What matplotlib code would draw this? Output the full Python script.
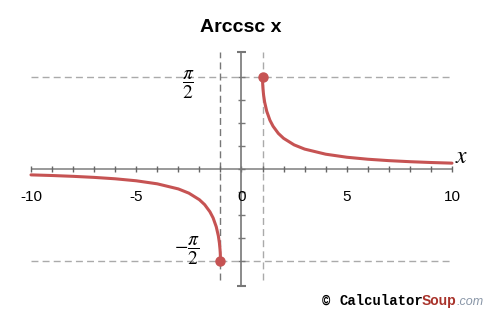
import matplotlib.pyplot as plt
import numpy as np

plt.rcParams["mathtext.fontset"] = "stix"

# curve samples (x, arccsc x)
x_right = [1.0, 1.005, 1.01, 1.02, 1.05, 1.1, 1.2, 1.35, 1.5, 1.75, 2.0, 2.5, 3.0,
           4.0, 5.0, 6.0, 7.0, 8.0, 9.0, 10.0]
y_right = [1.571, 1.471, 1.430, 1.372, 1.261, 1.141, 0.985, 0.833, 0.730, 0.608,
           0.524, 0.412, 0.340, 0.253, 0.201, 0.167, 0.143, 0.125, 0.111, 0.100]
x_left = [-10.0, -9.0, -8.0, -7.0, -6.0, -5.0, -4.0, -3.0, -2.5, -2.0, -1.75, -1.5,
          -1.35, -1.2, -1.1, -1.05, -1.02, -1.01, -1.005, -1.0]
y_left = [-0.100, -0.111, -0.125, -0.143, -0.167, -0.201, -0.253, -0.340, -0.412,
          -0.524, -0.608, -0.730, -0.833, -0.985, -1.141, -1.261, -1.372, -1.430,
          -1.471, -1.571]

xtick_labels = [-10, -5, 0, 5, 10]
HALF_PI = np.pi / 2
CURVE = "#C65353"

fig = plt.figure(figsize=(4.88, 3.12), dpi=100)
ax = fig.add_axes([0.0204, 0.0452, 0.9705, 0.9013])
ax.set_xlim(-11, 11.5)
ax.set_ylim(-2.2, 2.6)
ax.axis("off")

# dashed guide lines
dash = (0, (5, 3))
ax.hlines([HALF_PI, -HALF_PI], -10, 10, colors="#aaaaaa", lw=1, linestyles=dash)
ax.vlines(-1, -1.9, 2.0, colors="#777777", lw=1, linestyles=dash)
ax.vlines(1, -1.9, 2.0, colors="#aaaaaa", lw=1, linestyles=dash)

# x axis with unit ticks
ax.hlines(0, -10, 10, colors="#888888", lw=1.2)
ax.vlines(np.arange(-10, 11), -0.05, 0.05, colors="#666666", lw=1)
for v in xtick_labels:
    ax.text(v, -0.48, str(v), ha="center", va="center", fontsize=11,
            family="Liberation Sans")

# y axis with pi/8 ticks and end caps
ax.vlines(0, -2, 2, colors="#777777", lw=1.2)
ax.hlines(np.arange(-4, 5) * np.pi / 8, -0.15, 0.15, colors="#777777", lw=1)
ax.hlines([-2, 2], -0.2, 0.2, colors="#777777", lw=1.5)

ax.text(-2.52, 1.43, r"$\dfrac{\pi}{2}$", ha="center", va="center", fontsize=14)
ax.text(-2.57, -1.40, r"$-\dfrac{\pi}{2}$", ha="center", va="center", fontsize=14)
ax.text(10.45, 0.22, r"$x$", ha="center", va="center", fontsize=17)

# curve
ax.plot(x_right, y_right, color=CURVE, lw=2.2, solid_capstyle="round")
ax.plot(x_left, y_left, color=CURVE, lw=2.2, solid_capstyle="round")
ax.plot([x_right[0], x_left[-1]], [y_right[0], y_left[-1]], "o", color=CURVE,
        markersize=6.5)

fig.text(240.5 / 488, 1 - 27 / 312, "Arccsc x", ha="center", va="center",
         fontsize=14, fontweight="bold", family="Liberation Sans")

# watermark
yb = 7 / 312
fig.text(322 / 488, yb, "\u00a9", fontsize=10, fontweight="bold",
         family="Liberation Mono", va="baseline")
fig.text(340 / 488, yb, "Calculator", fontsize=10, fontweight="bold",
         family="Liberation Mono", va="baseline")
fig.text(422 / 488, yb, "Soup", fontsize=10, color="#a8322a", fontweight="bold",
         family="Liberation Sans", va="baseline")
fig.text(457 / 488, yb, ".com", fontsize=9, color="#8a97a8", style="italic",
         family="Liberation Sans", va="baseline")

fig.savefig("out.png", dpi=100)
